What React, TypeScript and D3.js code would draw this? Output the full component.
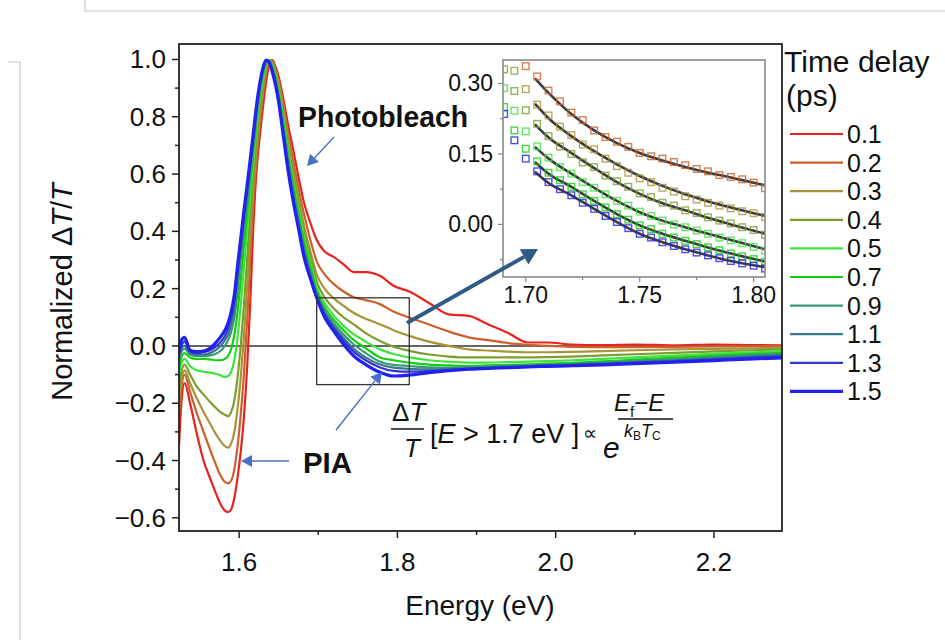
import React from "react";
import * as d3 from "d3";

// ---------- main chart data ----------
const ENERGY = [
  1.524, 1.527, 1.531, 1.538, 1.546, 1.555, 1.563, 1.570, 1.576, 1.582, 1.586,
  1.590, 1.594, 1.598, 1.602, 1.606, 1.610, 1.614, 1.618, 1.622, 1.626, 1.630,
  1.634, 1.638, 1.642, 1.646, 1.650, 1.656, 1.662, 1.668, 1.675, 1.682, 1.690,
  1.698, 1.708, 1.720, 1.732, 1.745, 1.760, 1.778, 1.795, 1.815, 1.840, 1.865,
  1.890, 1.915, 1.940, 1.965, 1.990, 2.020, 2.060, 2.100, 2.150, 2.200, 2.250, 2.286,
];

const DELAYS = ["0.1", "0.2", "0.3", "0.4", "0.5", "0.7", "0.9", "1.1", "1.3", "1.5"];

const S_01 = [
  -0.35, -0.20, -0.13, -0.20, -0.30, -0.40, -0.46, -0.51, -0.55, -0.575, -0.58,
  -0.57, -0.53, -0.46, -0.37, -0.25, -0.08, 0.15, 0.42, 0.61, 0.73, 0.83, 0.92, 0.98, 0.998, 0.975,
  0.94, 0.86, 0.77, 0.69, 0.59, 0.50, 0.43, 0.37,
  0.33, 0.31, 0.285, 0.258, 0.258, 0.245, 0.21, 0.19, 0.15, 0.11, 0.105, 0.075, 0.045,
  0.012, 0.012, 0.005, 0.003, 0.005, 0.002, 0.005, 0.003, 0.002,
];
const S_02 = [
  -0.25, -0.15, -0.10, -0.16, -0.23, -0.30, -0.36, -0.41, -0.45, -0.475, -0.48,
  -0.47, -0.43, -0.35, -0.24, -0.10, 0.08, 0.30, 0.50, 0.65, 0.77, 0.87, 0.95, 0.99, 0.995, 0.965,
  0.925, 0.84, 0.74, 0.65, 0.55, 0.46, 0.37, 0.295,
  0.25, 0.215, 0.19, 0.17, 0.16, 0.146, 0.12, 0.099, 0.075, 0.05, 0.03, 0.02, 0.01,
  0.004, 0.0, -0.003, -0.004, -0.004, -0.003, -0.002, -0.001, 0.0,
];
const S_03 = [
  -0.20, -0.12, -0.085, -0.13, -0.18, -0.23, -0.27, -0.305, -0.33, -0.35, -0.355,
  -0.34, -0.30, -0.22, -0.11, 0.03, 0.20, 0.39, 0.55, 0.68, 0.80, 0.89, 0.96, 0.995, 0.99, 0.96,
  0.915, 0.82, 0.72, 0.62, 0.52, 0.42, 0.33, 0.25,
  0.2, 0.165, 0.14, 0.115, 0.095, 0.076, 0.055, 0.035, 0.015, 0.0, -0.012, -0.016, -0.02,
  -0.022, -0.022, -0.021, -0.018, -0.015, -0.012, -0.01, -0.008, -0.006,
];
const S_04 = [
  -0.15, -0.09, -0.065, -0.10, -0.14, -0.17, -0.195, -0.215, -0.23, -0.24, -0.245,
  -0.23, -0.19, -0.11, 0.0, 0.14, 0.30, 0.46, 0.60, 0.72, 0.83, 0.91, 0.97, 0.998, 0.985, 0.95,
  0.9, 0.805, 0.7, 0.6, 0.5, 0.4, 0.31, 0.225,
  0.17, 0.13, 0.1, 0.075, 0.045, 0.017, -0.003, -0.017, -0.03, -0.037, -0.04, -0.04, -0.04,
  -0.04, -0.039, -0.037, -0.033, -0.029, -0.024, -0.019, -0.015, -0.012,
];
const S_05 = [
  -0.10, -0.06, -0.045, -0.07, -0.085, -0.09, -0.093, -0.097, -0.102, -0.108, -0.105,
  -0.09, -0.05, 0.03, 0.14, 0.27, 0.40, 0.53, 0.65, 0.76, 0.86, 0.93, 0.98, 0.998, 0.98, 0.945,
  0.89, 0.79, 0.68, 0.58, 0.48, 0.38, 0.29, 0.205,
  0.15, 0.105, 0.07, 0.04, 0.015, -0.012, -0.028, -0.04, -0.05, -0.055, -0.058, -0.058, -0.056,
  -0.055, -0.053, -0.05, -0.045, -0.04, -0.034, -0.027, -0.022, -0.018,
];
const S_07 = [
  -0.07, -0.04, -0.025, -0.04, -0.045, -0.045, -0.047, -0.05, -0.05, -0.045, -0.035,
  -0.01, 0.04, 0.12, 0.23, 0.35, 0.46, 0.57, 0.68, 0.79, 0.88, 0.945, 0.985, 0.997, 0.975, 0.935,
  0.88, 0.775, 0.665, 0.565, 0.46, 0.36, 0.275, 0.192,
  0.135, 0.09, 0.055, 0.02, -0.008, -0.04, -0.05, -0.058, -0.065, -0.068, -0.07, -0.068, -0.066,
  -0.064, -0.062, -0.059, -0.054, -0.048, -0.041, -0.034, -0.028, -0.024,
];
const S_09 = [
  -0.05, -0.02, -0.01, -0.03, -0.035, -0.035, -0.033, -0.028, -0.018, 0.0, 0.02,
  0.05, 0.10, 0.19, 0.30, 0.41, 0.50, 0.60, 0.70, 0.80, 0.89, 0.955, 0.99, 0.995, 0.97, 0.93,
  0.87, 0.76, 0.65, 0.55, 0.445, 0.345, 0.26, 0.183,
  0.125, 0.078, 0.04, 0.005, -0.025, -0.055, -0.066, -0.07, -0.075, -0.076, -0.075, -0.072, -0.07,
  -0.068, -0.066, -0.063, -0.058, -0.053, -0.046, -0.039, -0.032, -0.028,
];
const S_11 = [
  -0.04, -0.01, 0.0, -0.025, -0.03, -0.03, -0.025, -0.015, -0.002, 0.02, 0.04,
  0.075, 0.13, 0.23, 0.33, 0.43, 0.52, 0.62, 0.715, 0.815, 0.90, 0.96, 0.995, 0.993, 0.965, 0.925,
  0.865, 0.75, 0.635, 0.535, 0.43, 0.33, 0.25, 0.177,
  0.117, 0.068, 0.028, -0.01, -0.04, -0.065, -0.076, -0.08, -0.082, -0.08, -0.078, -0.075, -0.072,
  -0.07, -0.068, -0.065, -0.061, -0.056, -0.05, -0.043, -0.036, -0.032,
];
const S_13 = [
  -0.03, 0.0, 0.015, -0.02, -0.025, -0.022, -0.015, -0.003, 0.012, 0.035, 0.06,
  0.10, 0.16, 0.26, 0.355, 0.45, 0.54, 0.635, 0.73, 0.83, 0.91, 0.965, 0.997, 0.99, 0.96, 0.92,
  0.857, 0.74, 0.62, 0.52, 0.42, 0.32, 0.242, 0.172,
  0.11, 0.06, 0.018, -0.02, -0.05, -0.075, -0.087, -0.09, -0.088, -0.084, -0.08, -0.077, -0.074,
  -0.071, -0.069, -0.067, -0.063, -0.058, -0.053, -0.047, -0.04, -0.036,
];
const S_15 = [
  -0.02, 0.02, 0.03, -0.015, -0.02, -0.018, -0.008, 0.01, 0.03, 0.055, 0.08,
  0.12, 0.18, 0.28, 0.375, 0.47, 0.56, 0.65, 0.745, 0.84, 0.915, 0.97, 0.998, 0.99, 0.955, 0.91,
  0.85, 0.73, 0.61, 0.51, 0.41, 0.31, 0.235, 0.168,
  0.10, 0.05, 0.005, -0.035, -0.065, -0.092, -0.105, -0.102, -0.093, -0.086, -0.081, -0.078, -0.076,
  -0.073, -0.071, -0.069, -0.066, -0.062, -0.057, -0.051, -0.045, -0.042,
];

const SERIES = [S_01, S_02, S_03, S_04, S_05, S_07, S_09, S_11, S_13, S_15];
const COLORS = [
  "#e8231f", "#cc5f2a", "#a89438", "#7c9e2e", "#3ee43e",
  "#12cf12", "#3a9a72", "#3a7890", "#3434d4", "#2222ee",
];

const X_TICKS = [1.6, 1.8, 2.0, 2.2];
const X_MINOR = [1.7, 1.9, 2.1];
const Y_TICKS = [1.0, 0.8, 0.6, 0.4, 0.2, 0.0, -0.2, -0.4, -0.6];
const Y_MINOR = [0.9, 0.7, 0.5, 0.3, 0.1, -0.1, -0.3, -0.5];

// ---------- inset data ----------
const INSET_E = [
  1.6905, 1.695, 1.700, 1.705, 1.710, 1.715, 1.720, 1.725, 1.730, 1.735, 1.740, 1.745,
  1.750, 1.755, 1.760, 1.765, 1.770, 1.775, 1.780, 1.785, 1.790, 1.795, 1.800, 1.805,
];
const INSET_DELAY_IDX = [1, 2, 3, 4, 5, 9];
const IN_02 = [0.43, 0.385, 0.337, 0.315, 0.285, 0.262, 0.238, 0.222, 0.2, 0.186, 0.176, 0.165, 0.152, 0.145, 0.14, 0.133, 0.126, 0.118, 0.113, 0.105, 0.101, 0.096, 0.089, 0.077];
const IN_03 = [0.37, 0.327, 0.288, 0.255, 0.232, 0.208, 0.19, 0.17, 0.16, 0.14, 0.124, 0.11, 0.098, 0.09, 0.078, 0.07, 0.06, 0.053, 0.046, 0.04, 0.034, 0.028, 0.024, 0.016];
const IN_04 = [0.33, 0.284, 0.243, 0.214, 0.188, 0.166, 0.15, 0.132, 0.122, 0.104, 0.092, 0.08, 0.066, 0.058, 0.046, 0.04, 0.03, 0.024, 0.015, 0.008, 0.002, -0.006, -0.012, -0.022];
const IN_05 = [0.29, 0.242, 0.198, 0.166, 0.142, 0.122, 0.108, 0.09, 0.078, 0.064, 0.05, 0.04, 0.027, 0.018, 0.008, 0.0, -0.006, -0.013, -0.02, -0.028, -0.034, -0.04, -0.048, -0.056];
const IN_07 = [0.25, 0.2, 0.161, 0.134, 0.11, 0.094, 0.08, 0.064, 0.05, 0.036, 0.022, 0.01, -0.002, -0.01, -0.02, -0.028, -0.035, -0.042, -0.049, -0.055, -0.062, -0.068, -0.074, -0.08];
const IN_15 = [0.235, 0.179, 0.14, 0.113, 0.09, 0.075, 0.062, 0.046, 0.033, 0.018, 0.005, -0.008, -0.02, -0.028, -0.038, -0.046, -0.053, -0.06, -0.066, -0.072, -0.078, -0.083, -0.088, -0.094];
const INSET_SERIES = [IN_02, IN_03, IN_04, IN_05, IN_07, IN_15];

const FIT_E = [1.704, 1.710, 1.720, 1.730, 1.740, 1.750, 1.760, 1.770, 1.780, 1.790, 1.805];
const FIT_02 = [0.311, 0.28, 0.235, 0.2, 0.173, 0.152, 0.136, 0.122, 0.11, 0.1, 0.083];
const FIT_03 = [0.257, 0.226, 0.188, 0.156, 0.128, 0.103, 0.082, 0.064, 0.049, 0.036, 0.018];
const FIT_04 = [0.213, 0.185, 0.152, 0.12, 0.09, 0.065, 0.045, 0.03, 0.014, 0.0, -0.02];
const FIT_05 = [0.165, 0.14, 0.108, 0.078, 0.05, 0.026, 0.008, -0.006, -0.02, -0.033, -0.053];
const FIT_07 = [0.133, 0.108, 0.08, 0.05, 0.022, -0.002, -0.02, -0.035, -0.049, -0.062, -0.079];
const FIT_15 = [0.112, 0.088, 0.062, 0.033, 0.005, -0.02, -0.038, -0.053, -0.066, -0.078, -0.091];
const FITS = [FIT_02, FIT_03, FIT_04, FIT_05, FIT_07, FIT_15];

const INSET_X_TICKS = [1.70, 1.75, 1.80];
const INSET_X_MINOR = [1.725, 1.775];
const INSET_Y_TICKS = [0.30, 0.15, 0.00];
const INSET_Y_MINOR = [0.225, 0.075, -0.075];

const FONT = "'Liberation Sans', Arial, Helvetica, sans-serif";

function Arrow({ x1, y1, x2, y2, color, width, head }: any) {
  const ang = Math.atan2(y2 - y1, x2 - x1);
  const hl = head, hw = head * 0.55;
  const bx = x2 - hl * Math.cos(ang), by = y2 - hl * Math.sin(ang);
  const px = -Math.sin(ang) * hw, py = Math.cos(ang) * hw;
  return (
    <g>
      <line x1={x1} y1={y1} x2={bx} y2={by} stroke={color} strokeWidth={width} />
      <polygon points={`${x2},${y2} ${bx + px},${by + py} ${bx - px},${by - py}`} fill={color} />
    </g>
  );
}

export default function App() {
  const x = d3.scaleLinear().domain([1.524, 2.286]).range([179, 782]);
  const y = d3.scaleLinear().domain([-0.646, 1.054]).range([531, 44]);
  const line = d3
    .line<number>()
    .x((_, i) => x(ENERGY[i]))
    .y((d) => y(d))
    .curve(d3.curveMonotoneX);

  const ix = d3.scaleLinear().domain([1.690, 1.805]).range([503, 765]);
  const iy = d3.scaleLinear().domain([-0.112, 0.35]).range([277, 60]);
  const fitLine = d3
    .line<number>()
    .x((_, i) => ix(FIT_E[i]))
    .y((d) => iy(d))
    .curve(d3.curveMonotoneX);

  const fmtY = (v: number) => (v < 0 ? "\u2212" + Math.abs(v).toFixed(1) : v.toFixed(1));
  const order = SERIES.map((_, i) => i);

  const boxX0 = x(1.698), boxX1 = x(1.815), boxY0 = y(0.168), boxY1 = y(-0.135);

  return (
    <svg
      width={945}
      height={640}
      style={{ position: "absolute", left: 0, top: 0, background: "#fff" }}
      fontFamily={FONT}
    >
      <rect x={0} y={0} width={945} height={640} fill="#fff" />
      {/* slide frame artifacts */}
      <path d="M85,0 V11 H945" fill="none" stroke="#c8c8c8" strokeWidth={1.2} />
      <path d="M8,62 H20 V640" fill="none" stroke="#c8c8c8" strokeWidth={1.2} />

      <defs>
        <clipPath id="plotClip">
          <rect x={179} y={44} width={603} height={487} />
        </clipPath>
        <clipPath id="insetClip">
          <rect x={ix(1.690)} y={iy(0.35)} width={ix(1.805) - ix(1.690)} height={iy(-0.112) - iy(0.35)} />
        </clipPath>
      </defs>

      {/* zero line */}
      <line x1={179} x2={782} y1={y(0)} y2={y(0)} stroke="#333" strokeWidth={1.6} />

      {/* curves */}
      <g clipPath="url(#plotClip)">
        {order.map((i) => (
          <path
            key={DELAYS[i]}
            d={line(SERIES[i]) || ""}
            fill="none"
            stroke={COLORS[i]}
            strokeWidth={i === 9 ? 3.2 : 2.2}
            strokeLinejoin="round"
          />
        ))}
      </g>

      {/* zoom box */}
      <rect x={boxX0} y={boxY0} width={boxX1 - boxX0} height={boxY1 - boxY0} fill="none" stroke="#333" strokeWidth={1.3} />

      {/* main frame */}
      <rect x={179} y={44} width={603} height={487} fill="none" stroke="#222" strokeWidth={1.8} />

      {/* y ticks */}
      {Y_TICKS.map((t) => (
        <g key={"yt" + t}>
          <line x1={172} x2={179} y1={y(t)} y2={y(t)} stroke="#222" strokeWidth={1.5} />
          <text x={166} y={y(t) + 9} textAnchor="end" fontSize={26} fill="#111">
            {fmtY(t)}
          </text>
        </g>
      ))}
      {Y_MINOR.map((t) => (
        <line key={"ym" + t} x1={175} x2={179} y1={y(t)} y2={y(t)} stroke="#222" strokeWidth={1.5} />
      ))}
      {/* x ticks */}
      {X_TICKS.map((t) => (
        <g key={"xt" + t}>
          <line x1={x(t)} x2={x(t)} y1={531} y2={538} stroke="#222" strokeWidth={1.5} />
          <text x={x(t)} y={571} textAnchor="middle" fontSize={26} fill="#111">
            {t.toFixed(1)}
          </text>
        </g>
      ))}
      {X_MINOR.map((t) => (
        <line key={"xm" + t} x1={x(t)} x2={x(t)} y1={531} y2={535} stroke="#222" strokeWidth={1.5} />
      ))}

      {/* axis titles */}
      <text x={480} y={615} textAnchor="middle" fontSize={28} fill="#111">
        Energy (eV)
      </text>
      <text transform="translate(72,292) rotate(-90)" textAnchor="middle" fontSize={29} fill="#111">
        Normalized {"\u0394"}
        <tspan fontStyle="italic">T</tspan>/<tspan fontStyle="italic">T</tspan>
      </text>

      {/* inset */}
      <rect x={503} y={60} width={262} height={217} fill="#fff" stroke="#9a9a9a" strokeWidth={1.5} />
      <g clipPath="url(#insetClip)">
        {FITS.map((f, k) => (
          <path key={"fit" + k} d={fitLine(f) || ""} fill="none" stroke="#262626" strokeWidth={2.6} opacity={0.9} />
        ))}
        {INSET_SERIES.map((s, k) =>
          s.map((v, j) => (
            <rect
              key={"sq" + k + "-" + j}
              x={ix(INSET_E[j]) - 3.3}
              y={iy(v) - 3.3}
              width={6.6}
              height={6.6}
              fill="none"
              stroke={COLORS[INSET_DELAY_IDX[k]]}
              strokeWidth={1.4}
              opacity={0.8}
            />
          ))
        )}
      </g>
      <rect x={503} y={60} width={262} height={217} fill="none" stroke="#9a9a9a" strokeWidth={1.5} />
      {INSET_Y_TICKS.map((t) => (
        <g key={"iyt" + t}>
          <line x1={498} x2={503} y1={iy(t)} y2={iy(t)} stroke="#888" strokeWidth={1.2} />
          <text x={493} y={iy(t) + 8} textAnchor="end" fontSize={23} fill="#111">
            {t.toFixed(2)}
          </text>
        </g>
      ))}
      {INSET_Y_MINOR.map((t) => (
        <line key={"iym" + t} x1={500} x2={503} y1={iy(t)} y2={iy(t)} stroke="#888" strokeWidth={1.2} />
      ))}
      {INSET_X_TICKS.map((t) => (
        <g key={"ixt" + t}>
          <line x1={ix(t)} x2={ix(t)} y1={277} y2={282} stroke="#888" strokeWidth={1.2} />
          <text x={ix(t)} y={303} textAnchor="middle" fontSize={23} fill="#111">
            {t.toFixed(2)}
          </text>
        </g>
      ))}
      {INSET_X_MINOR.map((t) => (
        <line key={"ixm" + t} x1={ix(t)} x2={ix(t)} y1={277} y2={280} stroke="#888" strokeWidth={1.2} />
      ))}

      {/* big arrow to inset */}
      <Arrow x1={407} y1={323} x2={538} y2={249} color="#2d5b86" width={4} head={16} />

      {/* legend */}
      <text x={784} y={72} fontSize={30} fill="#111">Time delay</text>
      <text x={786} y={106} fontSize={30} fill="#111">(ps)</text>
      {DELAYS.map((d, i) => {
        const ly = 134 + i * 28.6;
        return (
          <g key={"lg" + d}>
            <line x1={790} x2={843} y1={ly} y2={ly} stroke={COLORS[i]} strokeWidth={i === 9 ? 3.2 : 2.2} />
            <text x={847} y={ly + 9} fontSize={25} fill="#111">{d}</text>
          </g>
        );
      })}

      {/* annotations */}
      <text x={298} y={127} fontSize={29} fontWeight="bold" fill="#111" textLength={170} lengthAdjust="spacingAndGlyphs">
        Photobleach
      </text>
      <Arrow x1={334} y1={137} x2={307} y2={166} color="#4472c4" width={1.4} head={11} />
      <text x={303} y={473} fontSize={30} fontWeight="bold" fill="#111" textLength={49} lengthAdjust="spacingAndGlyphs">
        PIA
      </text>
      <Arrow x1={289} y1={461} x2={241} y2={461} color="#4472c4" width={1.4} head={11} />
      <Arrow x1={336} y1={430} x2={382} y2={372} color="#4472c4" width={1.4} head={11} />

      {/* formula */}
      <text x={392} y={421} fontSize={26} fill="#111">
        {"\u0394"}<tspan fontStyle="italic">T</tspan>
      </text>
      <line x1={391} x2={424} y1={429} y2={429} stroke="#111" strokeWidth={1.4} />
      <text x={404} y={457} fontSize={26} fontStyle="italic" fill="#111">T</text>
      <text x={430} y={443} fontSize={27} fill="#111">
        [<tspan fontStyle="italic">E</tspan>{" > 1.7 eV ]"}
      </text>
      <text x={583} y={440} fontSize={20} fill="#111">{"\u221d"}</text>
      <text x={603} y={458} fontSize={30} fontStyle="italic" fill="#111">e</text>
      <text x={614} y={411} fontSize={24} fill="#111">
        <tspan fontStyle="italic">E</tspan>
        <tspan fontSize={15} dy={6}>f</tspan>
        <tspan dy={-6}>{"\u2212"}</tspan>
        <tspan fontStyle="italic">E</tspan>
      </text>
      <line x1={618} x2={673} y1={419} y2={419} stroke="#111" strokeWidth={1.3} />
      <text x={624} y={437} fontSize={18} fill="#111">
        <tspan fontStyle="italic">k</tspan>
        <tspan fontSize={12} dy={3}>B</tspan>
        <tspan fontStyle="italic" dy={-3}>T</tspan>
        <tspan fontSize={12} dy={3}>C</tspan>
      </text>
    </svg>
  );
}
